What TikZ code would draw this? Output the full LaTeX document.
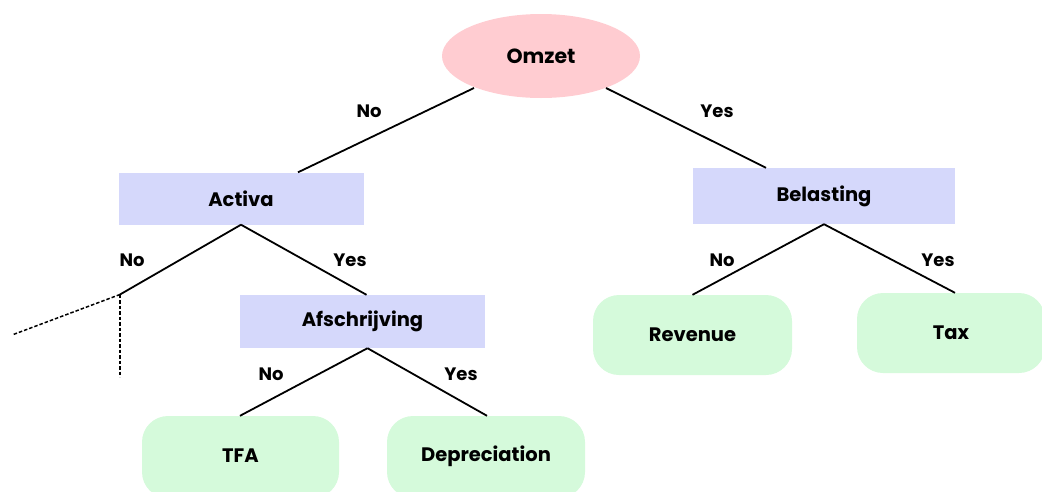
\documentclass[tikz,border=0pt]{standalone}
\usepackage{fontspec}
\setmainfont{Poppins}
\usetikzlibrary{shapes.geometric,calc}
\definecolor{rootpink}{HTML}{FFCCD1}
\definecolor{splitblue}{HTML}{D5D8FB}
\definecolor{leafgreen}{HTML}{D5FADB}
\tikzset{
  rootnode/.style={ellipse, fill=rootpink, minimum width=198pt, minimum height=84pt, inner sep=0pt,
    font=\fontsize{20.5}{24}\selectfont\bfseries},
  splitnode/.style={rectangle, fill=splitblue, inner sep=0pt,
    font=\fontsize{19.5}{23}\selectfont\bfseries},
  leafnode/.style={rectangle, rounded corners=26pt, fill=leafgreen, inner sep=0pt,
    font=\fontsize{19.5}{23}\selectfont\bfseries},
  leaftext/.style={font=\fontsize{19.5}{23}\selectfont\bfseries, inner sep=0pt},
  edge/.style={line width=1.8pt},
  openedge/.style={line width=1.5pt, dash pattern=on 3.5pt off 2pt},
  branchlabel/.style={font=\fontsize{18}{21}\selectfont\bfseries, inner sep=0pt}
}
\begin{document}
\begin{tikzpicture}[x=1pt,y=-1pt]
  \useasboundingbox (0,0) rectangle (1042,491);

  % decision nodes
  \node[rootnode] (omzet) at (541,56) {Omzet};
  \node[splitnode, minimum width=245pt, minimum height=52pt] (activa) at (241,198.5) {Activa};
  \node[splitnode, minimum width=262pt, minimum height=56pt] (belasting) at (824,196) {Belasting};
  \node[splitnode, minimum width=245pt, minimum height=53pt] (afschrijving) at (362.5,321.5) {Afschrijving};

  % leaves (the lower ones run off the page edge)
  \begin{scope}
    \clip (0,0) rectangle (1042,491);
    \node[leafnode, minimum width=199pt, minimum height=80pt] (revenue) at (692.5,335) {Revenue};
    \node[leafnode, minimum width=188pt, minimum height=80pt] (tax) at (951,333) {Tax};
    \node[leafnode, minimum width=197pt, minimum height=82pt] (tfa) at (240.5,457) {};
    \node[leafnode, minimum width=198pt, minimum height=82pt] (depreciation) at (486,457) {};
  \end{scope}
  \node[leaftext] (tfatext) at (240.5,456) {TFA};
  \node[leaftext] (deptext) at (486,456) {Depreciation};

  % open branch end
  \coordinate (cut) at (120,294.5);
  \coordinate (cutleft) at (12,335);
  \coordinate (cutdown) at (120,377);

  % connectors
  \draw[edge] ($(omzet.center)+(-67,32)$) -- ([xshift=57pt]activa.north);
  \draw[edge] ($(omzet.center)+(65,32)$) -- ([xshift=-58pt]belasting.north);
  \draw[edge] (activa.south) -- (cut);
  \draw[edge] (activa.south) -- ([xshift=4pt]afschrijving.north);
  \draw[edge] (belasting.south) -- (revenue.north);
  \draw[edge] (belasting.south) -- ([xshift=4pt]tax.north);
  \draw[edge] ([xshift=5pt]afschrijving.south) -- ([xshift=-0.5pt]tfa.north);
  \draw[edge] ([xshift=5pt]afschrijving.south) -- ([xshift=1pt]depreciation.north);
  \draw[openedge] (cut) -- (cutleft);
  \draw[openedge] (cut) -- (cutdown);

  % branch labels
  \node[branchlabel] (l1) at (369,111) {No};
  \node[branchlabel] (l2) at (717,111) {Yes};
  \node[branchlabel] (l3) at (132,260) {No};
  \node[branchlabel] (l4) at (350,260) {Yes};
  \node[branchlabel] (l5) at (722,260) {No};
  \node[branchlabel] (l6) at (938,260) {Yes};
  \node[branchlabel] (l7) at (271,374) {No};
  \node[branchlabel] (l8) at (461,374) {Yes};
\end{tikzpicture}
\end{document}
